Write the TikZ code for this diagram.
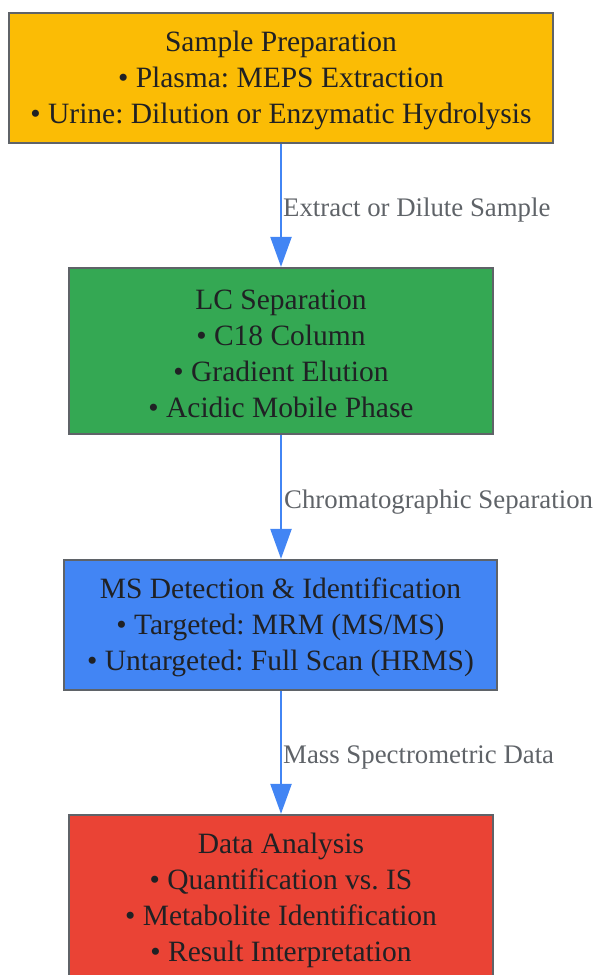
\documentclass[tikz,border=0pt]{standalone}
\usepackage{fontspec}
\setmainfont{Liberation Serif}
\usetikzlibrary{arrows.meta}
\definecolor{cyellow}{HTML}{FBBC05}
\definecolor{cgreen}{HTML}{34A853}
\definecolor{cblue}{HTML}{4285F4}
\definecolor{cred}{HTML}{EA4335}
\definecolor{cborder}{HTML}{5F6368}
\definecolor{ctext}{HTML}{202124}
\definecolor{clabel}{HTML}{5F6368}
\newcommand{\downstrut}{\rule{0pt}{26pt}}
\tikzset{
  stepbox/.style={draw=cborder, line width=2.2pt, rectangle, align=center, inner sep=0pt,
    text=ctext, font=\frenchspacing\fontsize{29.5}{36}\selectfont},
  flow/.style={draw=cblue, line width=2.2pt, -{Triangle[length=30pt,width=21pt]}},
  elabel/.style={text=clabel, font=\frenchspacing\fontsize{26.8}{30}\selectfont, inner sep=0pt, anchor=west}
}
\begin{document}
\begin{tikzpicture}[x=1pt,y=1pt]
\useasboundingbox (0,0) rectangle (593,-975);
\begin{scope}
\clip (0,0) rectangle (593,-975);
\node[stepbox, fill=cyellow, minimum width=544pt, minimum height=130pt] (prep) at (281,-78)
  {\downstrut Sample Preparation\\ • Plasma: MEPS Extraction\\ • Urine: Dilution or Enzymatic Hydrolysis};
\node[stepbox, fill=cgreen, minimum width=424pt, minimum height=166pt] (lc) at (281,-351)
  {\downstrut LC Separation\\ • C18 Column\\ • Gradient Elution\\ • Acidic Mobile Phase};
\node[stepbox, fill=cblue, minimum width=433pt, minimum height=130pt] (ms) at (280.5,-625)
  {\downstrut MS Detection \& Identification\\ • Targeted: MRM (MS/MS)\\ • Untargeted: Full Scan (HRMS)};
\node[stepbox, fill=cred, minimum width=424pt, minimum height=166pt] (data) at (281,-898)
  {\downstrut Data Analysis\\ • Quantification vs. IS\\ • Metabolite Identification\\ • Result Interpretation};
\draw[flow] (prep.south -| 281,0) -- (lc.north -| 281,0);
\draw[flow] (lc.south -| 281,0) -- (ms.north -| 281,0);
\draw[flow] (ms.south -| 281,0) -- (data.north -| 281,0);
\node[elabel] (l1) at (283,-210) {Extract or Dilute Sample};
\node[elabel] (l2) at (284,-502) {Chromatographic Separation};
\node[elabel] (l3) at (283,-757) {Mass Spectrometric Data};
\end{scope}
\end{tikzpicture}
\end{document}
